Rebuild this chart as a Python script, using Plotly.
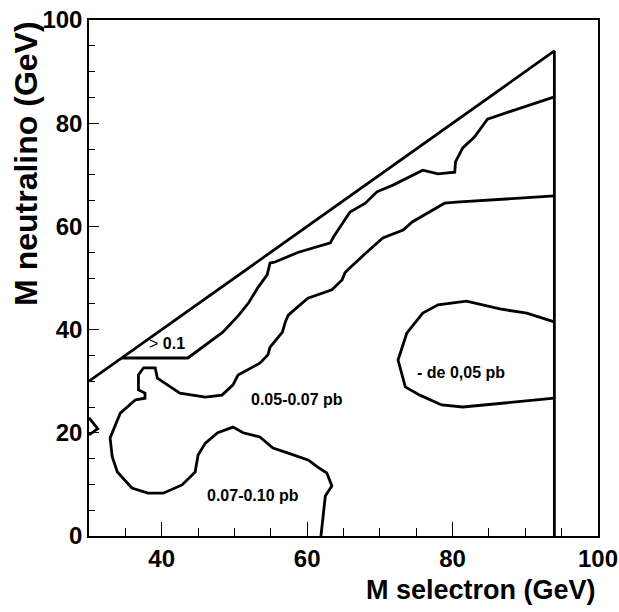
import plotly.graph_objects as go

# Kinematic limit
x_limit = [30, 94.0, 94.0]
y_limit = [30, 94.0, 0]

# Contour ">0.1"
x_c010 = [34.5, 43.6, 48.4, 50.6, 52.0, 53.2, 54.5, 54.9, 55.6, 58.8, 63.2, 63.6, 65.0,
          65.9, 68.0, 69.6, 71.8, 73.7, 75.9, 78.0, 80.3, 80.4, 81.4, 83.0, 84.8, 94.0]
y_c010 = [34.5, 34.5, 39.5, 42.8, 45.3, 48.1, 50.6, 52.9, 53.1, 55.0, 56.8, 57.9, 60.9,
          62.8, 64.5, 66.7, 68.0, 69.4, 70.9, 70.2, 70.5, 72.5, 75.2, 77.3, 80.8, 85.1]

# Contour 0.07
x_c007 = [61.9, 62.5, 63.4, 62.7, 61.4, 60.2, 57.3, 55.3, 53.5, 51.2, 49.8, 47.7, 46.0,
          45.0, 44.6, 42.8, 40.2, 38.1, 35.9, 33.9, 33.2, 32.9, 34.3, 36.4, 37.7,
          37.7, 36.8, 36.8, 37.5, 39.1, 39.4, 42.5, 46.0, 48.3, 49.8, 50.5, 53.5, 54.6,
          54.9, 56.6, 57.0, 57.4, 58.7, 60.1, 63.4, 64.8, 65.2, 65.6, 68.2, 70.4, 73.2,
          74.5, 78.9, 80.5, 94.0]
y_c007 = [0, 7.75, 9.7, 12.2, 13.4, 14.7, 16.1, 17.05, 19.2, 20.0, 21.1, 20.0, 18.0,
          15.7, 12.4, 9.9, 8.3, 8.3, 9.3, 12.4, 15.3, 19.0, 23.8, 26.4, 26.7,
          27.7, 28.3, 31.2, 32.6, 32.6, 30.6, 27.7, 26.9, 27.3, 29.3, 31.2, 33.5, 35.1,
          36.6, 39.5, 41.5, 42.8, 44.4, 46.1, 47.7, 49.6, 51.0, 51.6, 55.0, 57.75, 59.3,
          60.9, 64.5, 64.7, 65.9]

# Small wedge at left edge
x_wedge = [30, 31.2, 30]
y_wedge = [22.9, 20.8, 19.6]

# Contour "- de 0,05"
x_c005 = [94.0, 90.2, 86.5, 81.9, 78.0, 75.9, 73.7, 72.5, 73.5, 75.5, 78.5, 81.4, 94.0]
y_c005 = [41.5, 43.2, 44.0, 45.5, 44.8, 43.2, 39.3, 34.1, 28.9, 27.3, 25.4, 25.0, 26.7]

# Region labels
label_text = ["<span style='font-weight:normal'>&gt;</span> 0.1", "0.05-0.07 pb", "- de 0,05 pb", "0.07-0.10 pb"]
label_x = [40.7, 58.6, 81.2, 52.6]
label_y = [37.4, 26.5, 31.6, 7.8]

x_ticks = [40, 60, 80, 100]
y_ticks = [0, 20, 40, 60, 80, 100]

FONT = "Liberation Sans, Arial, Helvetica, sans-serif"
line = dict(color="black", width=2.8)

fig = go.Figure()
for xs, ys in [(x_limit, y_limit), (x_c010, y_c010), (x_c007, y_c007),
               (x_wedge, y_wedge), (x_c005, y_c005)]:
    fig.add_trace(go.Scatter(x=xs, y=ys, mode="lines", line=line,
                             showlegend=False, hoverinfo="skip"))

for t, x, y in zip(label_text, label_x, label_y):
    fig.add_annotation(x=x, y=y, text=t, showarrow=False,
                       font=dict(family=FONT, size=16, color="black", weight="bold"))

fig.add_annotation(xref="paper", yref="paper", x=1.0, y=-0.105, text="M selectron (GeV)",
                   showarrow=False, xanchor="right", yanchor="middle",
                   font=dict(family=FONT, size=27, color="black", weight="bold"))
fig.add_annotation(xref="paper", yref="paper", x=-0.124, y=1.0, text="M neutralino (GeV)",
                   showarrow=False, textangle=-90, xanchor="center", yanchor="top",
                   font=dict(family=FONT, size=32, color="black", weight="bold"))

fig.update_xaxes(range=[30, 100], tickvals=x_ticks, ticks="inside", ticklen=14, tickwidth=1,
                 tickcolor="black", showgrid=False, zeroline=False, showline=True,
                 linecolor="black", linewidth=1.5, mirror=True, automargin=False,
                 ticklabeloverflow="allow",
                 tickfont=dict(family=FONT, size=24, color="black", weight="bold"),
                 minor=dict(tick0=0, dtick=5, ticks="inside", ticklen=8, tickcolor="black",
                            tickwidth=1, showgrid=False))
fig.update_yaxes(range=[0, 100], tickvals=y_ticks, ticks="inside", ticklen=10, tickwidth=1,
                 tickcolor="black", showgrid=False, zeroline=False, showline=True,
                 linecolor="black", linewidth=1.5, mirror=True, automargin=False,
                 tickfont=dict(family=FONT, size=24, color="black", weight="bold"),
                 minor=dict(tick0=0, dtick=5, ticks="inside", ticklen=6, tickcolor="black",
                            tickwidth=1, showgrid=False))

fig.update_layout(width=619, height=612, margin=dict(l=89, r=21, t=20, b=76, autoexpand=False),
                  plot_bgcolor="white", paper_bgcolor="white")

fig.write_html("out.html", config={"displayModeBar": False},
               post_script="document.body.style.margin='0px';document.body.style.padding='0px';"
                           "document.documentElement.style.overflow='hidden';")
